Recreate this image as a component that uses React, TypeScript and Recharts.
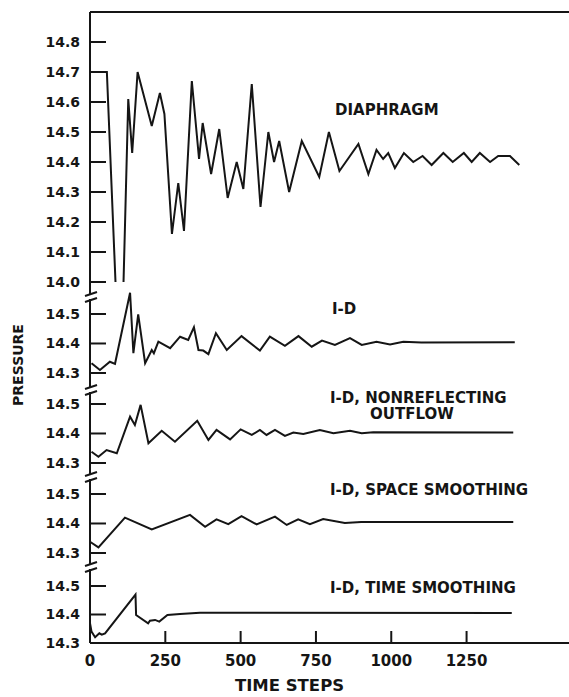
import React from 'react';
import { LineChart, Line, XAxis, YAxis, ReferenceLine, Label } from 'recharts';

// ---------- data ----------
const xTicks = [0, 250, 500, 750, 1000, 1250];
const diaphragmTicks = [14.0, 14.1, 14.2, 14.3, 14.4, 14.5, 14.6, 14.7, 14.8];
const smallTicks = [14.3, 14.4, 14.5];

const diaphragmSteps = [0, 56, 101, 127, 140, 158, 205, 232, 247, 272, 293, 312, 338, 362, 374, 402, 429, 457, 487, 509, 537, 566, 592, 611, 628, 661, 703, 761, 793, 828, 891, 924, 951, 973, 990, 1012, 1042, 1073, 1104, 1134, 1173, 1204, 1241, 1267, 1294, 1328, 1355, 1394, 1425];
const diaphragmPressure = [14.7, 14.7, 13.6, 14.61, 14.43, 14.7, 14.52, 14.63, 14.56, 14.16, 14.33, 14.17, 14.67, 14.41, 14.53, 14.36, 14.51, 14.28, 14.4, 14.31, 14.66, 14.25, 14.5, 14.4, 14.47, 14.3, 14.47, 14.35, 14.5, 14.37, 14.46, 14.36, 14.44, 14.41, 14.43, 14.38, 14.43, 14.4, 14.42, 14.39, 14.43, 14.4, 14.43, 14.4, 14.43, 14.4, 14.42, 14.42, 14.39];

const oneDSteps = [5, 33, 66, 83, 133, 144, 160, 183, 205, 212, 227, 266, 299, 326, 345, 360, 376, 393, 418, 454, 503, 564, 597, 647, 692, 736, 770, 813, 863, 902, 951, 996, 1040, 1100, 1410];
const oneDPressure = [14.333, 14.31, 14.338, 14.331, 14.572, 14.367, 14.499, 14.333, 14.378, 14.367, 14.406, 14.384, 14.423, 14.412, 14.455, 14.378, 14.376, 14.364, 14.435, 14.378, 14.425, 14.376, 14.423, 14.392, 14.425, 14.389, 14.41, 14.395, 14.418, 14.395, 14.406, 14.397, 14.406, 14.403, 14.404];

const nonreflSteps = [5, 28, 55, 89, 133, 149, 168, 194, 238, 282, 356, 393, 420, 465, 500, 537, 564, 586, 614, 647, 675, 708, 763, 808, 863, 902, 940, 1405];
const nonreflPressure = [14.338, 14.321, 14.344, 14.333, 14.457, 14.429, 14.497, 14.367, 14.409, 14.372, 14.443, 14.378, 14.412, 14.38, 14.414, 14.395, 14.412, 14.395, 14.412, 14.392, 14.403, 14.398, 14.412, 14.401, 14.409, 14.401, 14.404, 14.403];

const spaceSteps = [0, 28, 116, 205, 332, 382, 420, 459, 503, 553, 614, 653, 691, 730, 774, 846, 900, 1405];
const spacePressure = [14.338, 14.319, 14.42, 14.38, 14.429, 14.389, 14.414, 14.398, 14.425, 14.397, 14.423, 14.395, 14.414, 14.398, 14.415, 14.402, 14.405, 14.405];

const timeSteps = [0, 5, 17, 31, 39, 50, 151, 153, 193, 199, 216, 230, 257, 299, 365, 1400];
const timePressure = [14.37, 14.34, 14.32, 14.334, 14.329, 14.334, 14.47, 14.398, 14.369, 14.378, 14.381, 14.375, 14.398, 14.402, 14.406, 14.405];

const zip = (ts: number[], ps: number[]) => ts.map((t, i) => ({ t, p: ps[i] }));

// ---------- styling ----------
const W = 569;
const AXIS_W = 90;
const X_MAX = 1590;
const PAD = 10;
const INK = '#151515';
const FONT = "'DejaVu Sans', sans-serif";

const YTick = (props: any) => {
  const { x, y, payload } = props;
  return (
    <g>
      <line x1={x} y1={y} x2={x + 16} y2={y} stroke={INK} strokeWidth={2} />
      <text x={x - 10} y={y} dy={5} textAnchor="end" fontFamily={FONT} fontWeight="bold" fontSize={14} fill={INK}>
        {Number(payload.value).toFixed(1)}
      </text>
    </g>
  );
};

const XTick = (props: any) => {
  const { x, y, payload } = props;
  return (
    <g>
      {payload.value !== 0 && <line x1={x} y1={y} x2={x} y2={y - 12} stroke={INK} strokeWidth={2} />}
      <text x={x} y={y + 23} textAnchor="middle" fontFamily={FONT} fontWeight="bold" fontSize={15} fill={INK}>
        {payload.value}
      </text>
    </g>
  );
};

type PanelProps = {
  data: { t: number; p: number }[];
  top: number;
  height: number;
  domain: [number, number];
  ticks: number[];
  showX?: boolean;
  topLine?: boolean;
};

const Panel = ({ data, top, height, domain, ticks, showX, topLine }: PanelProps) => {
  const xH = showX ? 54 : 0;
  const bottomPad = showX ? 0 : PAD;
  return (
    <div style={{ position: 'absolute', left: 0, top: top - PAD }}>
      <LineChart width={W} height={height + xH + PAD + bottomPad} data={data} margin={{ top: PAD, right: 0, bottom: bottomPad, left: 0 }}>
        {showX ? (
          <XAxis
            type="number"
            dataKey="t"
            domain={[0, X_MAX]}
            ticks={xTicks}
            interval={0}
            tickSize={0}
            tickMargin={0}
            height={xH}
            tick={<XTick />}
            axisLine={{ stroke: INK, strokeWidth: 2 }}
          >
            <Label value="TIME STEPS" position="insideBottom" offset={6} dx={-40} fontFamily={FONT} fontWeight="bold" fontSize={16.5} fill={INK} />
          </XAxis>
        ) : (
          <XAxis type="number" dataKey="t" domain={[0, X_MAX]} hide />
        )}
        <YAxis
          type="number"
          width={AXIS_W}
          domain={domain}
          ticks={ticks}
          interval={0}
          allowDataOverflow
          tickSize={0}
          tickMargin={0}
          tick={<YTick />}
          axisLine={{ stroke: INK, strokeWidth: 2 }}
        />
        {topLine && <ReferenceLine y={domain[1]} stroke={INK} strokeWidth={2} />}
        <Line type="linear" dataKey="p" stroke={INK} strokeWidth={2} dot={false} isAnimationActive={false} />
      </LineChart>
    </div>
  );
};

const breaks = [297, 390, 477, 567];

const Overlay = () => (
  <svg width={W} height={697} style={{ position: 'absolute', left: 0, top: 0, pointerEvents: 'none' }}>
    {breaks.map((b) => (
      <g key={b}>
        <rect x={86} y={b - 2} width={10} height={4} fill="#fff" />
        <path d={`M85 ${b - 1} L97 ${b - 5}`} stroke={INK} strokeWidth={2} />
        <path d={`M85 ${b + 5} L97 ${b + 1}`} stroke={INK} strokeWidth={2} />
      </g>
    ))}
    <text x={18} y={365} transform="rotate(-90 18 365)" dy={5} textAnchor="middle" fontFamily={FONT} fontWeight="bold" fontSize={14} fill={INK}>
      PRESSURE
    </text>
    <g fontFamily={FONT} fontWeight="bold" fontSize={15} fill={INK}>
      <text x={335} y={114.5}>DIAPHRAGM</text>
      <text x={332} y={314}>I-D</text>
      <text x={330} y={402.5}>I-D, NONREFLECTING</text>
      <text x={370} y={419}>OUTFLOW</text>
      <text x={330} y={495}>I-D, SPACE SMOOTHING</text>
      <text x={330} y={593}>I-D, TIME SMOOTHING</text>
    </g>
  </svg>
);

export default function App() {
  return (
    <div style={{ position: 'absolute', left: 0, top: 0, width: W, height: 697, background: '#fff' }}>
      <Panel data={zip(diaphragmSteps, diaphragmPressure)} top={12} height={270} domain={[14.0, 14.9]} ticks={diaphragmTicks} topLine />
      <Panel data={zip(oneDSteps, oneDPressure)} top={282} height={101} domain={[14.266, 14.6085]} ticks={smallTicks} />
      <Panel data={zip(nonreflSteps, nonreflPressure)} top={383} height={90} domain={[14.266, 14.5712]} ticks={smallTicks} />
      <Panel data={zip(spaceSteps, spacePressure)} top={473} height={90} domain={[14.266, 14.5712]} ticks={smallTicks} />
      <Panel data={zip(timeSteps, timePressure)} top={563} height={80} domain={[14.3, 14.5807]} ticks={smallTicks} showX />
      <Overlay />
    </div>
  );
}
